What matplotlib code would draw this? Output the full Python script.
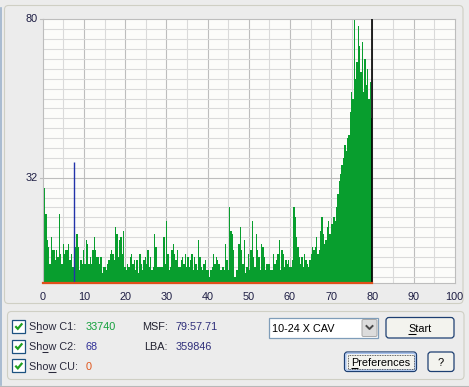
import numpy as np
import matplotlib
matplotlib.use("Agg")
import matplotlib.pyplot as plt
from matplotlib.patches import Rectangle, FancyBboxPatch
from matplotlib.font_manager import FontProperties

# ---------------- data ----------------
c1_seg1 = [8, 29, 21, 13, 11, 6, 14, 10, 10, 7, 10, 8, 21, 9, 6, 12, 9, 10, 10, 12,
           7, 9, 5, 4, 11, 15, 11, 4, 7, 6, 10, 6, 13, 12, 6, 8, 6, 10, 14, 10,
           8, 8, 6, 8, 3, 5, 5, 4, 6, 7, 9, 10, 9, 7, 17, 15, 8, 13, 14, 9,
           16, 5, 4, 6, 5, 8, 9, 6, 7, 4, 7, 3, 9, 6, 4, 7, 8, 6, 10, 5,
           8, 4, 5, 15, 11, 5, 5, 5, 5, 5, 14, 6, 19, 9, 4, 5, 10, 12, 9, 7,
           10, 5, 5, 7, 8, 6, 9, 5, 8, 5, 7, 9, 4, 8, 6, 4, 13, 8, 5, 4,
           6, 7, 4, 4, 2]
c1_seg2 = [4, 5, 9, 6, 8, 7, 6, 4, 4, 5, 4, 12, 7, 4, 23, 16, 15, 10, 2, 4,
           4, 12, 17, 10, 6, 13, 3, 5, 9, 4, 10, 19, 8, 5, 15, 10, 8, 4, 12, 11,
           8, 4, 6, 6, 6, 4, 4, 9, 6, 7, 9, 13, 4, 10, 9, 5, 7, 6, 7, 5,
           5, 7, 23, 20, 14, 11, 8, 6, 8, 5, 9, 7, 6, 5, 7, 9, 11, 10, 11, 14,
           9, 10, 16, 20, 15, 12, 13, 17, 19, 15, 18, 18, 20, 19]
c1_seg3 = [23, 27, 31, 33, 36, 38, 42, 40, 44, 45, 52, 58, 56, 80, 62, 67, 78, 72,
           64, 73, 58, 68, 60, 65, 56, 61, 50]
c1 = c1_seg1 + c1_seg2 + c1_seg3
scan_end = 80.0            # minutes scanned
c2_pos = [7.7]
c2_val = [36.7]
cu_val = 0

x_ticks = list(range(0, 101, 10))
y_labels = [80, 32]

info_c1 = "33740"
info_c2 = "68"
info_cu = "0"
msf = "79:57.71"
lba = "359846"
speed = "10-24 X CAV"

# ---------------- figure ----------------
W, H = 469, 387
fig = plt.figure(figsize=(W / 100, H / 100), dpi=100)
fig.patch.set_facecolor('#ECECEC')
bg = fig.add_axes([0, 0, 1, 1])
bg.set_xlim(0, W)
bg.set_ylim(H, 0)
bg.axis('off')

FONT = 'Liberation Sans'
FS = 7.8
fp = FontProperties(family=FONT, size=FS)
renderer = fig.canvas.get_renderer()


def tw(s):
    w, h, d = renderer.get_text_width_height_descent(s, fp, ismath=False)
    return w


def label(x, y, s, color='#222233', ha='left', ul=None):
    bg.text(x, y, s, fontproperties=fp, color=color, ha=ha, va='baseline')
    if ul is not None:
        x0 = x if ha == 'left' else x - tw(s) / 2
        a = x0 + tw(s[:ul]) if ul > 0 else x0
        b = x0 + tw(s[:ul + 1])
        bg.plot([a, b], [y + 1.8, y + 1.8], color=color, lw=0.75, solid_capstyle='butt')


# window / group frames
bg.plot([0.6, 0.6], [8, 385], color='#9DB3CC', lw=1.2)
bg.add_patch(FancyBboxPatch((4.5, 5.5), 458.5, 298, boxstyle='round,pad=0,rounding_size=4',
                            fc='#ECECEC', ec='#CFCFC4', lw=0.8))
bg.add_patch(FancyBboxPatch((7.5, 311.5), 456.5, 68, boxstyle='round,pad=0,rounding_size=4',
                            fc='#ECECEC', ec='#CFCFC4', lw=0.8))
bg.plot([0, W], [385.5, 385.5], color='#B8B8B8', lw=0.8)

# ---------------- chart ----------------
L, R, T, B = 42.7, 454.7, 19.3, 283.3
ax = fig.add_axes([L / W, 1 - B / H, (R - L) / W, (B - T) / H])
ax.set_xlim(0, 100)
ax.set_ylim(0, 80)
ax.set_facecolor('#FCFCFA')
for xv in range(5, 100, 5):
    ax.axvline(xv, color='#BDBDBD' if xv % 10 == 0 else '#DADADA', lw=0.8, zorder=1)
for k in range(1, 27):
    yv = 80 - 3 * k
    ax.axhline(yv, color='#BDBDBD' if yv == 32 else '#DADADA', lw=0.8, zorder=1)

step = scan_end / len(c1)
tt = np.arange(len(c1) + 1) * step
yy = np.append(np.array(c1, float), c1[-1])
ax.fill_between(tt, yy, step='post', color='#089E2E', lw=0, zorder=2)
ax.vlines(c2_pos, 0, c2_val, color='#2233AA', lw=1.0, zorder=3)
ax.axvline(scan_end, color='black', lw=1.2, zorder=4)
ax.plot([0, scan_end], [cu_val, cu_val], color='#E0501A', lw=1.6, zorder=5, clip_on=False)

for s in ax.spines.values():
    s.set_color('#BDBDBD')
    s.set_linewidth(0.8)
ax.set_xticks([])
ax.set_yticks([])

# y labels and ticks
for v in y_labels:
    yp = B - (B - T) * v / 80
    bg.text(37.5, yp, str(v), fontproperties=fp, color='#1E1E44', ha='right', va='center')
    bg.plot([39.5, L], [yp, yp], color='#BDBDBD', lw=0.8)
# x labels
for v in x_ticks:
    xp = L + (R - L) * v / 100
    bg.text(xp, 300, str(v), fontproperties=fp, color='#1E1E44', ha='center', va='baseline')

# ---------------- controls ----------------
rows = [330.5, 350.5, 370]
names = ["Show C1:", "Show C2:", "Show CU:"]
uls = [1, 2, 3]
vals = [(info_c1, '#14A03C'), (info_c2, '#2E2E96'), (info_cu, '#E0561C')]
for yb, nm, u, (v, c) in zip(rows, names, uls, vals):
    cy = yb - 4.5
    bg.add_patch(Rectangle((12.3, cy - 6.5), 13, 13, fc='white', ec='#1C5180', lw=0.9))
    bg.plot([15.3, 17.8, 22.3], [cy + 0.2, cy + 2.8, cy - 2.6], color='#21A121', lw=1.6,
            solid_capstyle='butt', solid_joinstyle='miter')
    label(28.7, yb, nm, color='#2A2A3C', ul=u)
    label(86, yb, v, color=c)

label(168, rows[0], "MSF:", color='#222230', ha='left')
label(175.5, rows[0], msf, color='#2E2E7A')
label(168, rows[1], "LBA:", color='#222230', ha='left')
label(175.5, rows[1], lba, color='#2E2E7A')
# right-align MSF/LBA labels by shifting
for t in bg.texts[-4::2]:
    t.set_ha('right')

# combo box
bg.add_patch(Rectangle((268.5, 318), 109.5, 20, fc='white', ec='#7F9DB9', lw=0.9))
bg.add_patch(FancyBboxPatch((362, 319.5), 15, 17, boxstyle='round,pad=0,rounding_size=1.5',
                            fc='#DCDCDC', ec='#A8A8A8', lw=0.7))
bg.plot([366.5, 369.5, 372.5], [326, 329, 326], color='#4A4A4A', lw=1.4)
label(271.5, 332, speed, color='black')


def button(x0, y0, w, h, txt, ul, default=False):
    bg.add_patch(FancyBboxPatch((x0, y0), w, h, boxstyle='round,pad=0,rounding_size=3',
                                fc='#F3F3EE', ec='#1D3F72', lw=0.9))
    if default:
        bg.add_patch(FancyBboxPatch((x0 + 1.3, y0 + 1.3), w - 2.6, h - 2.6,
                                    boxstyle='round,pad=0,rounding_size=2',
                                    fc='none', ec='#A9C3EE', lw=1.0))
        bg.add_patch(Rectangle((x0 + 3, y0 + 3), w - 6, h - 6, fc='none', ec='#333333',
                               lw=0.6, ls=(0, (1, 1))))
    label(x0 + w / 2, y0 + h / 2 + 4.5, txt, color='black', ha='center', ul=ul)


button(386, 317.5, 68, 20.5, "Start", 0)
button(344.5, 352, 72, 19.5, "Preferences", 0, default=True)
button(428, 352, 26, 19.5, "?", None)

fig.savefig('out.png', dpi=100, facecolor=fig.get_facecolor())
